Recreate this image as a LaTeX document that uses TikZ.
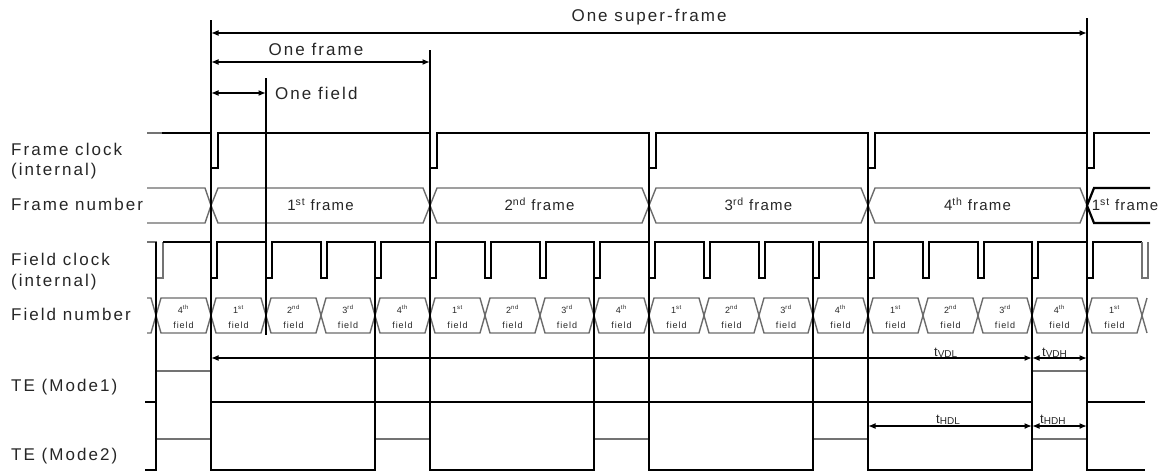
\documentclass[tikz,border=0pt]{standalone}
\usepackage{fontspec}
\setmainfont{Liberation Sans}
\newfontfamily\bigfont[LetterSpace=12]{Liberation Sans}
\newfontfamily\midfont[LetterSpace=8]{Liberation Sans}
\newfontfamily\smallfont[LetterSpace=10]{Liberation Sans}
\usetikzlibrary{arrows.meta}
\newcommand\ordsuf[1]{\ifcase#1 st\or nd\or rd\or th\fi}
\newcommand\tlbl[1]{t\raisebox{-1.5pt}{\fontsize{10}{10}\selectfont #1}}
\begin{document}
\begin{tikzpicture}[x=1pt,y=-1pt,
  sig/.style={line width=2.2pt, line join=miter, draw=black},
  graysig/.style={line width=1.3pt, draw=black!55},
  bus/.style={line width=1.4pt, draw=black!58, line join=miter},
  guide/.style={line width=2.4pt, draw=black},
  dimarrow/.style={line width=2pt, {Latex[length=7.5pt,width=6pt]}-{Latex[length=7.5pt,width=6pt]}},
  biglbl/.style={font=\fontsize{17}{20}\selectfont\bigfont, text=black!85, inner sep=0pt},
  midlbl/.style={font=\fontsize{15}{18}\selectfont\midfont, text=black!85, inner sep=0pt},
  smalllbl/.style={font=\fontsize{9}{10}\selectfont\smallfont, text=black!85, inner sep=0pt},
  tlabel/.style={font=\fontsize{13}{14}\selectfont, text=black!85, inner sep=0pt}]
\useasboundingbox (0,0) rectangle (1166,472);

% ---------- left labels ----------
\node[biglbl, anchor=base west] (lfc1) at (11,155) {Frame clock};
\node[biglbl, anchor=base west] (lfc2) at (11,175.5) {(internal)};
\node[biglbl, anchor=base west] (lfn) at (11,210.5) {Frame number};
\node[biglbl, anchor=base west] (lkc1) at (11,265) {Field clock};
\node[biglbl, anchor=base west] (lkc2) at (11,286.5) {(internal)};
\node[biglbl, anchor=base west] (lkn) at (11,320.5) {Field number};
\node[biglbl, anchor=base west] (lte1) at (11,391.5) {TE (Mode1)};
\node[biglbl, anchor=base west] (lte2) at (11,460) {TE (Mode2)};

% ---------- frame clock ----------
\draw[graysig] (147,133) -- (162,133);
\draw[sig] (162,133) foreach \k in {0,...,4} {
  -- ({211+219*\k},133) -- ({211+219*\k},168) -- ({218+219*\k},168) -- ({218+219*\k},133) }
  -- (1150,133);

% ---------- frame number bus ----------
\draw[bus] (147,188) -- (205,188) -- (211,205.5) -- (205,223) -- (147,223);
\foreach \i in {0,...,3} {
  \pgfmathsetmacro\fa{211+219*\i}
  \pgfmathsetmacro\fb{\fa+219}
  \draw[bus] (\fa,205.5) -- (\fa+7,188) -- (\fb-7,188) -- (\fb,205.5) -- (\fb-7,223) -- (\fa+7,223) -- cycle;
}
\draw[sig] (1150,188) -- (1094,188) -- (1087,205.5) -- (1094,223) -- (1150,223);
\foreach \i/\s in {0/1,1/2,2/3,3/4} {
  \node[midlbl, anchor=base] (fr\i) at ({211+219*\i+109.5},210.5) {\s\textsuperscript{\ordsuf{\i}} frame};
}
\node[midlbl, anchor=base] (fr4) at (1125,210.5) {1\textsuperscript{st} frame};

% ---------- field clock ----------
\draw[graysig] (147,242) -- (156,242) -- (156,278) -- (163,278) -- (163,242);
\draw[sig] (163,242) foreach \k in {0,...,16} {
  -- ({round(211+54.75*\k)},242) -- ({round(211+54.75*\k)},278) -- ({round(211+54.75*\k)+6},278) -- ({round(211+54.75*\k)+6},242) }
  -- (1142,242);
\draw[graysig] (1142,242) -- (1142,278) -- (1148,278) -- (1148,242);

% ---------- field number bus ----------
\draw[bus] (147,298) -- (151,298) -- (156,315.5) -- (151,333) -- (147,333);
\foreach \k in {-1,...,16} {
  \pgfmathtruncatemacro\ka{round(211+54.75*\k)}
  \pgfmathtruncatemacro\kb{round(211+54.75*(\k+1))}
  \pgfmathtruncatemacro\ord{mod(\k+4,4)}
  \pgfmathtruncatemacro\num{\ord+1}
  \draw[bus] (\ka,315.5) -- (\ka+5,298) -- (\kb-5,298) -- (\kb,315.5) -- (\kb-5,333) -- (\ka+5,333) -- cycle;
  \node[smalllbl, anchor=base] at ({(\ka+\kb)/2},313) {\num\textsuperscript{\ordsuf{\ord}}};
  \node[smalllbl, anchor=base] at ({(\ka+\kb)/2},328) {field};
}
\draw[bus] (1142,315.5) -- (1147,298);
\draw[bus] (1142,315.5) -- (1147,333);

% ---------- TE (Mode1) ----------
\draw[sig] (145,402) -- (156,402);
\draw[graysig] (156,371) -- (211,371);
\draw[sig] (211,402) -- (1032,402);
\draw[graysig] (1032,371) -- (1087,371);
\draw[sig] (1087,402) -- (1145,402);

% ---------- TE (Mode2) ----------
\draw[sig] (145,470) -- (156,470);
\foreach \i in {0,...,4} {
  \pgfmathtruncatemacro\ha{round(156.25+219*\i)}
  \draw[graysig] (\ha,439) -- ({211+219*\i},439);
}
\foreach \i in {0,...,3} {
  \pgfmathtruncatemacro\la{211+219*\i}
  \pgfmathtruncatemacro\lb{round(375.25+219*\i)}
  \draw[sig] (\la,470) -- (\lb,470);
}
\draw[sig] (1087,470) -- (1145,470);

% ---------- guide lines ----------
\coordinate (g0t) at (211,20);   \coordinate (g0b) at (211,471);
\coordinate (g1t) at (430,50);   \coordinate (g1b) at (430,471);
\coordinate (g2t) at (649,133);  \coordinate (g2b) at (649,471);
\coordinate (g3t) at (868,133);  \coordinate (g3b) at (868,471);
\coordinate (g4t) at (1087,18);  \coordinate (g4b) at (1087,471);
\coordinate (gft) at (266,78);   \coordinate (gfb) at (266,335);
\draw[guide] (g0t) -- (g0b);
\draw[guide] (g1t) -- (g1b);
\draw[guide] (g2t) -- (g2b);
\draw[guide] (g3t) -- (g3b);
\draw[guide] (g4t) -- (g4b);
\draw[guide] (gft) -- (gfb);
\foreach \i in {0,...,4} {
  \pgfmathtruncatemacro\va{round(156.25+219*\i)}
  \draw[guide] (\va,242) -- (\va,471);
}

% ---------- dimension arrows ----------
\coordinate (sfL) at (211,33);   \coordinate (sfR) at (1087,33);
\coordinate (frL) at (211,62);   \coordinate (frR) at (430,62);
\coordinate (fdL) at (211,93);   \coordinate (fdR) at (266,93);
\draw[dimarrow] (sfL) -- (sfR);
\draw[dimarrow] (frL) -- (frR);
\draw[dimarrow] (fdL) -- (fdR);
\node[biglbl, anchor=base] (tsf) at (649,21) {One super-frame};
\node[biglbl, anchor=base] (tfr) at (316,55) {One frame};
\node[biglbl, anchor=base west] (tfd) at (275,99) {One field};

\coordinate (vlL) at (211,358);     \coordinate (vlR) at (1032,358);
\coordinate (vhR) at (1087,358);
\coordinate (hlL) at (868,426);     \coordinate (hlR) at (1032,426);
\coordinate (hhR) at (1087,426);
\draw[dimarrow] (vlL) -- (vlR);
\draw[dimarrow] (vlR) -- (vhR);
\draw[dimarrow] (hlL) -- (hlR);
\draw[dimarrow] (hlR) -- (hhR);
\node[tlabel, anchor=base west] (tvdl) at (934,356) {\tlbl{VDL}};
\node[tlabel, anchor=base west] (tvdh) at (1042,356) {\tlbl{VDH}};
\node[tlabel, anchor=base west] (thdl) at (936,423) {\tlbl{HDL}};
\node[tlabel, anchor=base west] (thdh) at (1040,423) {\tlbl{HDH}};
\end{tikzpicture}
\end{document}
